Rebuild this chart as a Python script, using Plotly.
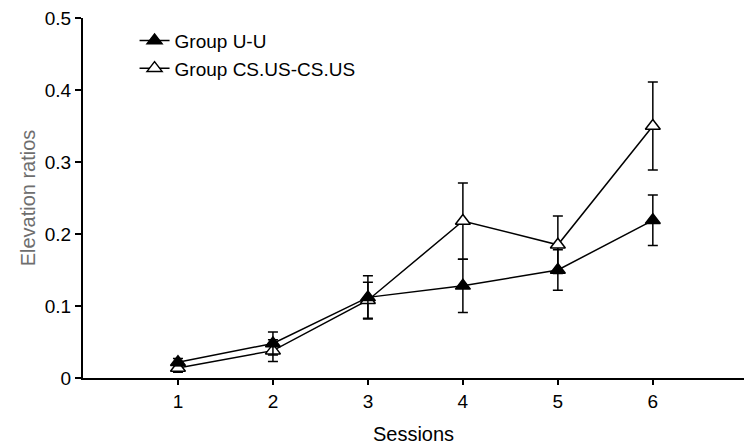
import plotly.graph_objects as go

sessions = [1, 2, 3, 4, 5, 6]
uu_mean = [0.022, 0.048, 0.112, 0.128, 0.150, 0.219]
uu_err = [0.005, 0.016, 0.030, 0.037, 0.028, 0.035]
cs_mean = [0.014, 0.038, 0.108, 0.218, 0.185, 0.350]
cs_err = [0.006, 0.015, 0.025, 0.053, 0.040, 0.061]
x_ticks = [1, 2, 3, 4, 5, 6]
y_ticks = [0, 0.1, 0.2, 0.3, 0.4, 0.5]
y_tick_text = ["0", "0.1", "0.2", "0.3", "0.4", "0.5"]

font = "Liberation Sans, Arial, sans-serif"

fig = go.Figure()
fig.add_trace(go.Scatter(
    x=sessions, y=cs_mean, name="Group CS.US-CS.US", mode="lines+markers",
    line=dict(color="black", width=1.5),
    marker=dict(symbol="triangle-up", size=13, color="white",
                line=dict(color="black", width=1.5)),
    error_y=dict(type="data", array=cs_err, visible=True, color="black",
                 thickness=1.5, width=5),
))
fig.add_trace(go.Scatter(
    x=sessions, y=uu_mean, name="Group U-U", mode="lines+markers",
    line=dict(color="black", width=1.5),
    marker=dict(symbol="triangle-up", size=13, color="black",
                line=dict(color="black", width=1.5)),
    error_y=dict(type="data", array=uu_err, visible=True, color="black",
                 thickness=1.5, width=5),
))

fig.update_layout(
    width=744, height=445,
    margin=dict(l=83, r=0, t=18, b=67),
    plot_bgcolor="white", paper_bgcolor="white",
    font=dict(family=font, size=19, color="black"),
    showlegend=True,
    legend=dict(x=0.078, y=0.99, xanchor="left", yanchor="top",
                traceorder="reversed", bgcolor="rgba(0,0,0,0)",
                font=dict(size=19, family=font), itemwidth=30,
                tracegroupgap=0),
    xaxis=dict(range=[0, 6.96], tickvals=x_ticks, showline=True,
               linecolor="black", linewidth=2, ticks="outside", ticklen=5,
               tickwidth=1.5, tickcolor="black", showgrid=False, zeroline=False,
               title=dict(text="Sessions", font=dict(size=20, family=font), standoff=17),
               tickfont=dict(size=19, family=font)),
    yaxis=dict(range=[0, 0.5], tickvals=y_ticks, ticktext=y_tick_text, showline=True,
               linecolor="black", linewidth=2, ticks="outside", ticklen=6,
               tickwidth=1.5, tickcolor="black", showgrid=False, zeroline=False,
               title=dict(text="Elevation ratios", font=dict(size=20, family=font, color="#6e6e6e"), standoff=4),
               tickfont=dict(size=19, family=font)),
)

fig.write_html("out.html")
